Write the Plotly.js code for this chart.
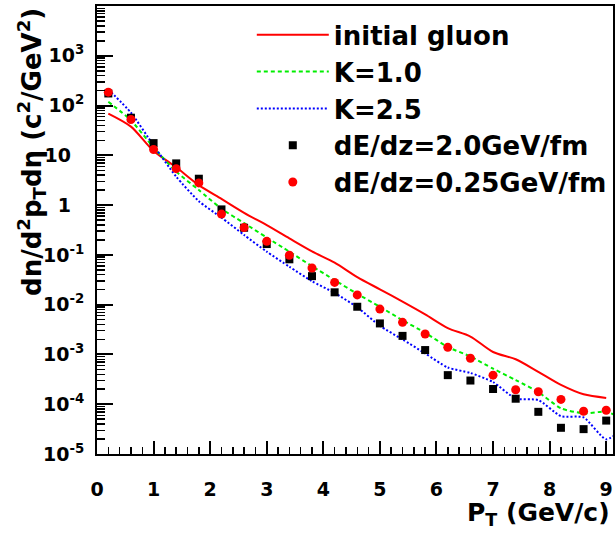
<!DOCTYPE html>
<html>
<head>
<meta charset="utf-8">
<script src="https://cdn.plot.ly/plotly-3.0.1.min.js"></script>
<style>html,body{margin:0;padding:0;background:#fff;}#chart{width:616px;height:533px;}</style>
</head>
<body>
<div id="chart"></div>
<script>
// pT values of the points / curves (GeV/c)
const ptPoints = [0.2, 0.6, 1.0, 1.4, 1.8, 2.2, 2.6, 3.0, 3.4, 3.8, 4.2, 4.6, 5.0, 5.4, 5.8, 6.2, 6.6, 7.0, 7.4, 7.8, 8.2, 8.6, 9.0];
const ptCurveExt = [0.2, 0.6, 1.0, 1.4, 1.8, 2.2, 2.6, 3.0, 3.4, 3.8, 4.2, 4.6, 5.0, 5.4, 5.8, 6.2, 6.6, 7.0, 7.4, 7.8, 8.2, 8.6, 9.0, 9.4];

// initial gluon (solid red)
const initialGluon = [69, 37.7, 12.2, 5.75, 2.52, 1.33, 0.70, 0.395, 0.214, 0.1175, 0.0696, 0.0358, 0.0203, 0.0115, 0.00637, 0.00339, 0.00229, 0.00112, 0.0008, 0.000447, 0.000244, 0.000158, 0.000134];
// K=1.0 (dashed green)
const k10 = [119, 50.6, 14.4, 4.7, 2.01, 0.845, 0.436, 0.223, 0.116, 0.0593, 0.0311, 0.0165, 0.00908, 0.00487, 0.00273, 0.00141, 0.000908, 0.000518, 0.000306, 0.000175, 0.0000826, 0.0000657, 0.0000703, 0.0000456];
// K=2.5 (dotted blue)
const k25 = [210, 71.9, 15.8, 3.73, 1.2, 0.561, 0.251, 0.116, 0.0578, 0.0296, 0.0172, 0.00885, 0.00376, 0.002, 0.00105, 0.000546, 0.000425, 0.000279, 0.00013, 0.000121, 0.0000576, 0.0000543, 0.0000198, 0.0000389];
// dE/dz = 2.0 GeV/fm (black squares)
const dEdz20 = [175, 57, 17.6, 6.89, 3.39, 0.82, 0.351, 0.165, 0.0815, 0.0374, 0.0177, 0.00908, 0.0042, 0.00236, 0.001225, 0.000384, 0.000299, 0.000202, 0.000129, 0.0000703, 0.0000336, 0.0000316, 0.0000469];
// dE/dz = 0.25 GeV/fm (red circles)
const dEdz025 = [186, 52.4, 13.1, 5.4, 2.79, 0.661, 0.353, 0.187, 0.0982, 0.0546, 0.028, 0.0157, 0.00816, 0.00442, 0.00258, 0.00139, 0.000837, 0.000384, 0.000195, 0.000178, 0.000125, 0.0000724, 0.0000758];

// axis ticks
const yTickVals = [1e-5, 1e-4, 1e-3, 1e-2, 1e-1, 1, 10, 100, 1000];
const yTickText = ['10<sup>-5</sup>', '10<sup>-4</sup>', '10<sup>-3</sup>', '10<sup>-2</sup>', '10<sup>-1</sup>', '1\u00a0\u00a0', '10\u00a0\u00a0', '10<sup>2</sup>', '10<sup>3</sup>'];
const xTickVals = [0, 1, 2, 3, 4, 5, 6, 7, 8, 9];

const yMinor = [];
for (let e = -5; e <= 3; e++) { for (let m = 2; m <= 9; m++) yMinor.push(m * Math.pow(10, e)); }

const FONT = 'DejaVu Sans, Liberation Sans, Arial, sans-serif';

const traces = [
  {x: ptPoints, y: initialGluon, name: 'initial gluon', mode: 'lines', type: 'scatter',
   line: {color: '#ff0000', width: 2, shape: 'spline', smoothing: 0.8}},
  {x: ptCurveExt, y: k10, name: 'K=1.0', mode: 'lines', type: 'scatter',
   line: {color: '#00ee00', width: 2, dash: '4px,3px', shape: 'spline', smoothing: 0.6}},
  {x: ptCurveExt, y: k25, name: 'K=2.5', mode: 'lines', type: 'scatter',
   line: {color: '#0000ff', width: 2, dash: '2px,2px', shape: 'spline', smoothing: 0.6}},
  {x: ptPoints, y: dEdz20, name: 'dE/dz=2.0GeV/fm', mode: 'markers', type: 'scatter',
   marker: {symbol: 'square', size: 8, color: '#000000'}},
  {x: ptPoints, y: dEdz025, name: 'dE/dz=0.25GeV/fm', mode: 'markers', type: 'scatter',
   marker: {symbol: 'circle', size: 9, color: '#ff0000'}}
];

const layout = {
  width: 616, height: 533,
  margin: {l: 97, r: 3, t: 6, b: 79},
  paper_bgcolor: '#ffffff', plot_bgcolor: '#ffffff',
  font: {family: FONT, color: '#000000'},
  showlegend: true,
  legend: {x: 0.300, y: 0.988, xanchor: 'left', yanchor: 'top',
           bgcolor: 'rgba(0,0,0,0)', borderwidth: 0, itemwidth: 72,
           font: {family: FONT, size: 26, weight: 'bold', color: '#000'}},
  xaxis: {range: [0, 9.12], tickmode: 'array', tickvals: xTickVals,
          ticks: 'inside', ticklen: 13, tickwidth: 2, tickcolor: '#000',
          showline: true, linewidth: 2, linecolor: '#000', mirror: true,
          showgrid: false, zeroline: false, ticklabelstandoff: 17,
          tickfont: {family: FONT, size: 19, weight: 'bold'},
          minor: {ticks: 'inside', ticklen: 7, tickwidth: 1.5, tickcolor: '#000', dtick: 0.2, tick0: 0, showgrid: false}},
  yaxis: {type: 'log', range: [-5, 4], tickmode: 'array', tickvals: yTickVals, ticktext: yTickText,
          ticks: 'inside', ticklen: 16, tickwidth: 2, tickcolor: '#000',
          showline: true, linewidth: 2, linecolor: '#000', mirror: true,
          showgrid: false, zeroline: false, ticklabelstandoff: 7,
          tickfont: {family: FONT, size: 19, weight: 'bold'},
          minor: {ticks: 'inside', ticklen: 8, tickwidth: 1.5, tickcolor: '#000', tickmode: 'array', tickvals: yMinor, showgrid: false}},
  annotations: [
    {text: 'dn/d<sup>2</sup>p<sub>T</sub>dη (c<sup>2</sup>/GeV<sup>2</sup>)', textangle: -90,
     xref: 'paper', yref: 'paper', x: -0.128, y: 1.0, xanchor: 'center', yanchor: 'top', showarrow: false,
     font: {family: FONT, size: 26, weight: 'bold'}},
    {text: 'P<sub>T</sub> (GeV/c)', xref: 'paper', yref: 'paper', x: 0.998, y: -0.1735,
     xanchor: 'right', yanchor: 'bottom', showarrow: false,
     font: {family: FONT, size: 25, weight: 'bold'}}
  ]
};

Plotly.newPlot('chart', traces, layout, {staticPlot: true, displayModeBar: false});
</script>
</body>
</html>
